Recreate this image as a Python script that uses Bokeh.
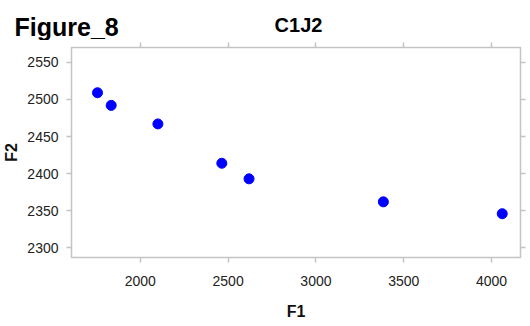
from bokeh.plotting import figure
from bokeh.layouts import column
from bokeh.models import Range1d, FixedTicker, LinearAxis, Label
from bokeh.embed import file_html
from bokeh.resources import INLINE

# data
f1 = [1756, 1834, 2100, 2464, 2619, 3384, 4061]
f2 = [2509, 2492, 2467, 2414, 2393, 2362, 2346]
x_ticks = [2000, 2500, 3000, 3500, 4000]
y_ticks = [2300, 2350, 2400, 2450, 2500, 2550]
fig_title = "Figure_8"
plot_title = "C1J2"
x_label = "F1"
y_label = "F2"

FONT = "Liberation Sans"
GRAY = "#c4c4c4"
HEAD_H = 40

# header strip carrying the two titles
head = figure(width=530, height=HEAD_H, output_backend="svg", toolbar_location=None,
              x_axis_type=None, y_axis_type=None,
              min_border_left=0, min_border_right=0, min_border_top=0,
              min_border_bottom=0,
              x_range=Range1d(0, 1), y_range=Range1d(0, 1))
head.outline_line_color = None
head.xgrid.visible = False
head.ygrid.visible = False
head.add_layout(Label(x=14, y=14, x_units="screen", y_units="screen",
                      text=fig_title, text_font=FONT, text_font_style="bold",
                      text_font_size="25px", text_color="#000000",
                      text_baseline="alphabetic", text_align="left"))
head.add_layout(Label(x=298, y=16, x_units="screen", y_units="screen",
                      text=plot_title, text_font=FONT, text_font_style="bold",
                      text_font_size="20px", text_color="#000000",
                      text_baseline="alphabetic", text_align="center"))

p = figure(width=530, height=326 - HEAD_H, output_backend="svg", toolbar_location=None,
           x_range=Range1d(1608, 4165), y_range=Range1d(2287, 2570),
           min_border_left=70, min_border_right=10, min_border_top=47 - HEAD_H,
           min_border_bottom=69)

for fig in (head, p):
    if "frame_align" in fig.properties():
        fig.frame_align = False

p.scatter(f1, f2, size=10, color="#0000ff", line_color="#0000ff")

p.xgrid.visible = False
p.ygrid.visible = False
p.outline_line_color = GRAY
p.outline_line_width = 1.5

def style(ax, ticks, labels=True):
    ax.ticker = FixedTicker(ticks=ticks)
    ax.axis_line_color = None
    ax.major_tick_line_color = GRAY
    ax.major_tick_line_width = 1.5
    ax.major_tick_in = 0
    ax.major_tick_out = 5
    ax.minor_tick_line_color = None
    ax.major_label_text_font = FONT
    ax.major_label_text_font_size = "14px"
    ax.major_label_text_color = "#222222"
    ax.axis_label_text_font = FONT
    ax.axis_label_text_font_style = "bold"
    ax.axis_label_text_font_size = "16px"
    ax.axis_label_text_color = "#111111"
    if not labels:
        ax.major_label_overrides = {t: "" for t in ticks}
        ax.major_label_standoff = 0

style(p.xaxis[0], x_ticks)
style(p.yaxis[0], y_ticks)
p.xaxis[0].axis_label = x_label
p.yaxis[0].axis_label = y_label
p.xaxis[0].major_label_standoff = 13
p.xaxis[0].axis_label_standoff = 14
p.yaxis[0].major_label_standoff = 8
p.yaxis[0].axis_label_standoff = 4

top = LinearAxis()
style(top, x_ticks, labels=False)
p.add_layout(top, "above")
right = LinearAxis()
style(right, y_ticks, labels=False)
p.add_layout(right, "right")

layout = column(head, p, spacing=0)
open("out.html", "w").write(file_html(layout, INLINE))
